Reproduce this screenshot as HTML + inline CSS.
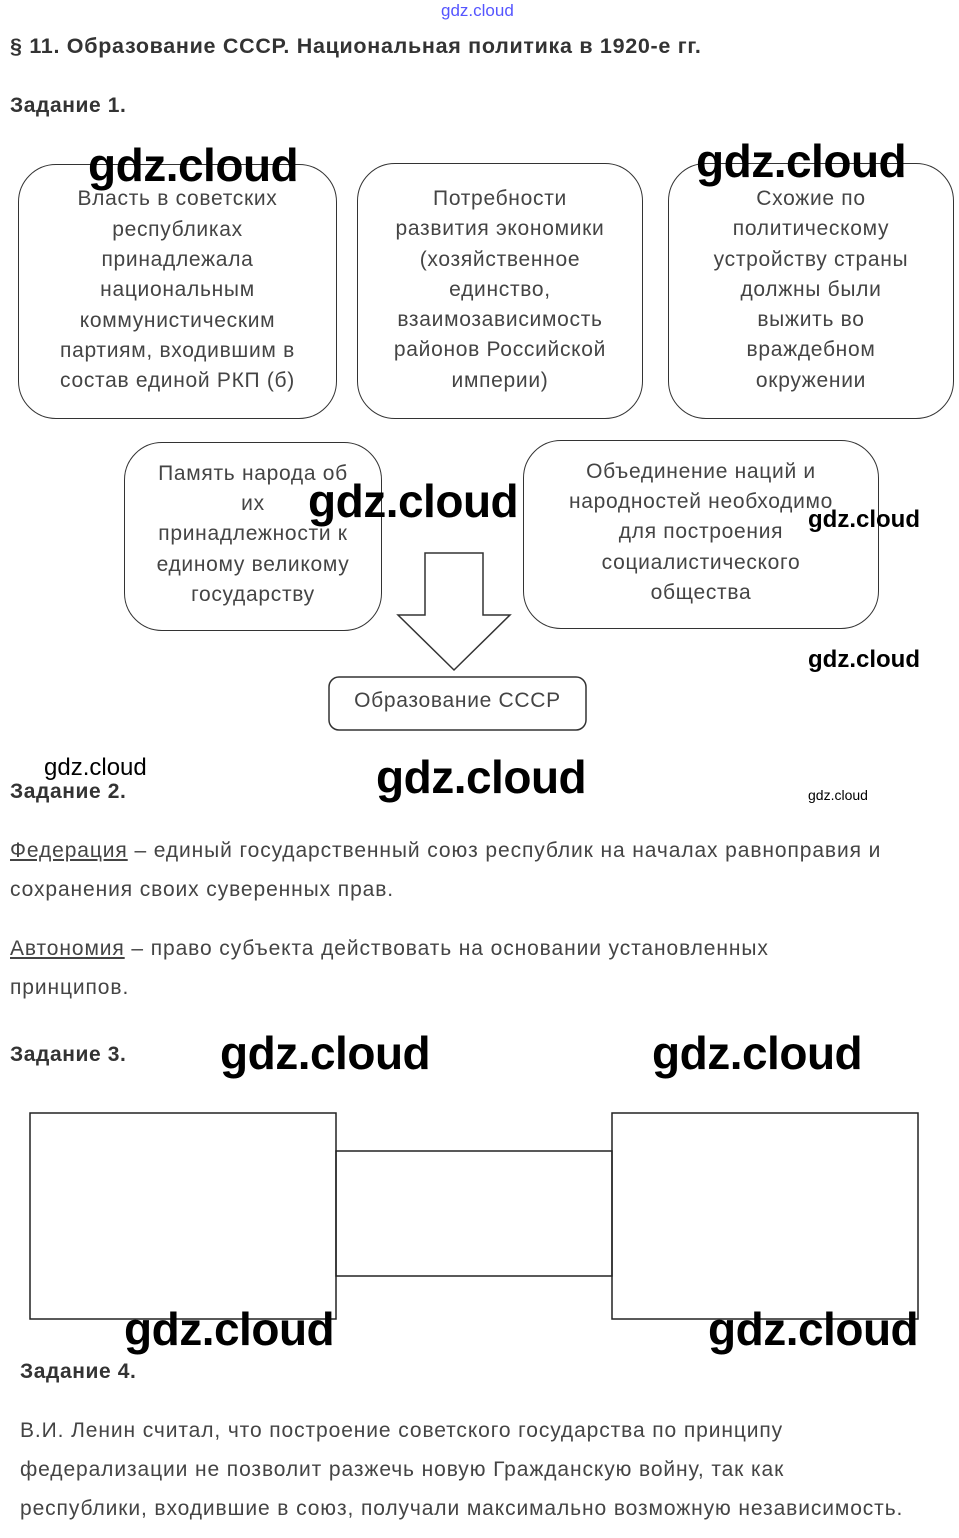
<!DOCTYPE html>
<html><head><meta charset="utf-8"><style>
body{margin:0;width:959px;height:1538px;background:#fff;position:relative;font-family:"Liberation Sans",sans-serif;color:#333;overflow:hidden}
.a{position:absolute}
.b{position:absolute;border:1.5px solid #333;border-radius:38px;box-sizing:border-box;text-align:center;font-size:21px;letter-spacing:0.7px;line-height:30.3px;color:#444;display:flex;align-items:center;justify-content:center}
.w{position:absolute;font-family:"Liberation Sans",sans-serif;font-weight:bold;color:#000;letter-spacing:-0.5px}
.h{position:absolute;font-weight:bold;font-size:21px;letter-spacing:0.6px;color:#333}
.t{position:absolute;font-size:21px;letter-spacing:0.9px;color:#444;line-height:39px}
u{text-decoration:underline}
</style></head><body>
<div class="a" style="left:441px;top:1px;font-size:17px;color:#55f;">gdz.cloud</div>
<div class="h" style="left:10px;top:34px;font-size:21.5px;letter-spacing:0.7px">§ 11. Образование СССР. Национальная политика в 1920-е гг.</div>
<div class="h" style="left:10px;top:94px">Задание 1.</div>

<div class="b" style="left:18px;top:164px;width:319px;height:255px;padding-bottom:2px">Власть в советских<br>республиках<br>принадлежала<br>национальным<br>коммунистическим<br>партиям, входившим в<br>состав единой РКП (б)</div>
<div class="b" style="left:357px;top:163px;width:286px;height:256px;padding-bottom:2px">Потребности<br>развития экономики<br>(хозяйственное<br>единство,<br>взаимозависимость<br>районов Российской<br>империи)</div>
<div class="b" style="left:668px;top:163px;width:286px;height:256px;padding-bottom:2px">Схожие по<br>политическому<br>устройству страны<br>должны были<br>выжить во<br>враждебном<br>окружении</div>
<div class="b" style="left:124px;top:442px;width:258px;height:189px;padding-bottom:4px">Память народа об<br>их<br>принадлежности к<br>единому великому<br>государству</div>
<div class="b" style="left:523px;top:440px;width:356px;height:189px;padding-bottom:4px">Объединение наций и<br>народностей необходимо<br>для построения<br>социалистического<br>общества</div>
<svg class="a" style="left:0;top:0" width="959" height="1538">
<polygon points="425,553 483,553 483,615 510,615 454,670 398,615 425,615" fill="#fff" stroke="#333" stroke-width="1.5"/>
<rect x="329" y="677" width="257" height="53" rx="10" fill="#fff" stroke="#333" stroke-width="1.5"/>
<rect x="30" y="1113" width="306" height="206" fill="none" stroke="#222" stroke-width="1.5"/>
<rect x="336" y="1151" width="276" height="125" fill="none" stroke="#222" stroke-width="1.5"/>
<rect x="612" y="1113" width="306" height="206" fill="none" stroke="#222" stroke-width="1.5"/>
</svg>
<div class="a" style="left:329px;top:689px;width:257px;text-align:center;font-size:21px;letter-spacing:0.7px;color:#444">Образование СССР</div>

<div class="h" style="left:10px;top:780px">Задание 2.</div>
<div class="t" style="left:10px;top:831px"><u>Федерация</u> – единый государственный союз республик на началах равноправия и<br>сохранения своих суверенных прав.</div>
<div class="t" style="left:10px;top:929px"><u>Автономия</u> – право субъекта действовать на основании установленных<br>принципов.</div>
<div class="h" style="left:10px;top:1043px">Задание 3.</div>
<div class="h" style="left:20px;top:1360px">Задание 4.</div>
<div class="t" style="left:20px;top:1411px">В.И. Ленин считал, что построение советского государства по принципу<br>федерализации не позволит разжечь новую Гражданскую войну, так как<br>республики, входившие в союз, получали максимально возможную независимость.</div>

<div class="w" style="left:88px;top:138px;font-size:46px">gdz.cloud</div>
<div class="w" style="left:696px;top:134px;font-size:46px">gdz.cloud</div>
<div class="w" style="left:308px;top:474px;font-size:46px">gdz.cloud</div>
<div class="w" style="left:808px;top:506px;font-size:24px;letter-spacing:0">gdz.cloud</div>
<div class="w" style="left:808px;top:646px;font-size:24px;letter-spacing:0">gdz.cloud</div>
<div class="w" style="left:44px;top:754px;font-size:24px;letter-spacing:0;font-weight:normal">gdz.cloud</div>
<div class="w" style="left:376px;top:750px;font-size:46px">gdz.cloud</div>
<div class="w" style="left:808px;top:787px;font-size:14px;letter-spacing:0;font-weight:normal">gdz.cloud</div>
<div class="w" style="left:220px;top:1026px;font-size:46px">gdz.cloud</div>
<div class="w" style="left:652px;top:1026px;font-size:46px">gdz.cloud</div>
<div class="w" style="left:124px;top:1302px;font-size:46px">gdz.cloud</div>
<div class="w" style="left:708px;top:1302px;font-size:46px">gdz.cloud</div>
</body></html>
